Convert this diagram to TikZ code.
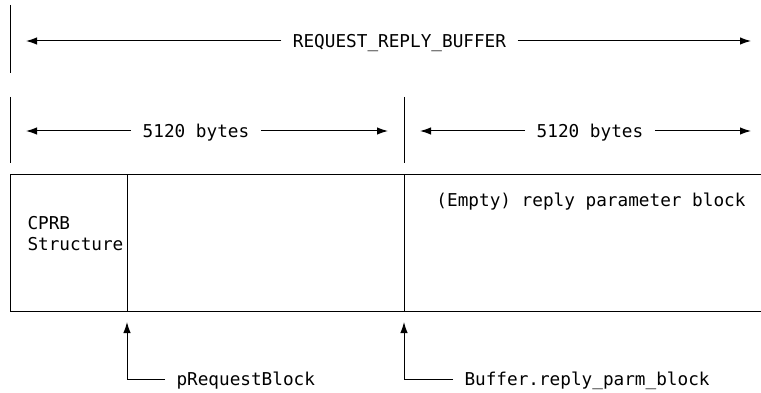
\documentclass[tikz,border=0pt]{standalone}
\usepackage{fontspec}
\setmonofont{DejaVu Sans Mono}
\usetikzlibrary{arrows.meta,positioning}

\begin{document}
\begin{tikzpicture}[x=1pt,y=-1pt,line width=1pt,>={Latex[length=11pt,width=7.5pt]},
   every node/.style={font=\ttfamily\fontsize{17.7}{21}\selectfont, inner sep=0pt},
   dimlabel/.style={inner xsep=11pt, text height=12.9pt, text depth=0pt},
   ptrlabel/.style={anchor=west, inner xsep=11pt, text height=12.9pt, text depth=0pt}]
   \useasboundingbox (0,0) rectangle (761,393);

   % whole buffer
   \draw (10,5) -- (10,73);
   \node[dimlabel] (total) at (399.5,41) {REQUEST\_REPLY\_BUFFER};
   \coordinate (totalL) at (26,41);
   \coordinate (totalR) at (751,41);
   \path[->] (total) edge (totalL)
   (total) edge (totalR);

   % the two halves
   \draw (10,97) -- (10,163);
   \draw (404,97) -- (404,163);
   \node[dimlabel] (reqsize) at (196,131) {5120 bytes};
   \node[dimlabel] (repsize) at (590,131) {5120 bytes};
   \coordinate (reqL) at (26,131);
   \coordinate (reqR) at (388,131);
   \coordinate (repL) at (420,131);
   \coordinate (repR) at (751,131);
   \path[->] (reqsize) edge (reqL)
   (reqsize) edge (reqR)
   (repsize) edge (repL)
   (repsize) edge (repR);

   % buffer layout
   \draw (761,175) -- (10,175) -- (10,311) -- (761,311);
   \draw (127,175) -- (127,311);
   \draw (404,175) -- (404,311);
   \node[anchor=north west, align=left] (cprb) at (27,215.5) {CPRB\\Structure};
   \node[dimlabel] (empty) at (591,200) {(Empty) reply parameter block};

   % pointers
   \coordinate (reqtip) at (127,322);
   \coordinate (reptip) at (404,322);
   \node[ptrlabel] (preq) at (165,379) {pRequestBlock};
   \node[ptrlabel] (prep) at (453,379) {Buffer.reply\_parm\_block};
   \draw[->] (preq) -| (reqtip);
   \draw[->] (prep) -| (reptip);

\end{tikzpicture}
\end{document}
